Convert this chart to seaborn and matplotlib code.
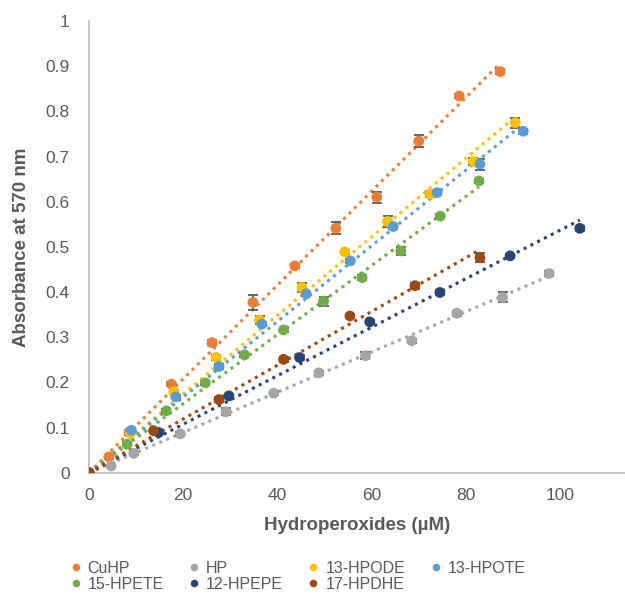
import numpy as np
import pandas as pd
import matplotlib
matplotlib.use('Agg')
import matplotlib.pyplot as plt
import seaborn as sns

# series names and Excel-like colours
series = ['CuHP', 'HP', '13-HPODE', '13-HPOTE', '15-HPETE', '12-HPEPE', '17-HPDHE']
colors = ['#ED7D31', '#A5A5A5', '#FFC000', '#5B9BD5', '#70AD47', '#264478', '#9E480E']

# values (x in uM, y = absorbance, err = error bar half width)
cuhp_x = [0, 4.2, 8.5, 17.5, 26.1, 34.8, 43.7, 52.4, 61.1, 70.0, 78.6, 87.3]
cuhp_y = [0, 0.035, 0.089, 0.196, 0.288, 0.377, 0.458, 0.541, 0.610, 0.734, 0.834, 0.888]
cuhp_err = [0, 0.004, 0.005, 0.005, 0.005, 0.017, 0.005, 0.013, 0.012, 0.014, 0.005, 0.006]

hp_x = [0, 4.7, 9.5, 19.4, 29.1, 39.2, 48.8, 58.7, 68.5, 78.1, 87.8, 97.7]
hp_y = [0, 0.015, 0.043, 0.086, 0.135, 0.176, 0.221, 0.259, 0.292, 0.353, 0.388, 0.441]
hp_err = [0, 0.003, 0.003, 0.004, 0.008, 0.004, 0.005, 0.008, 0.005, 0.005, 0.011, 0.005]

hpode_x = [0, 8.8, 18.0, 27.0, 36.2, 45.2, 54.3, 63.4, 72.4, 81.6, 90.5]
hpode_y = [0, 0.087, 0.179, 0.255, 0.338, 0.410, 0.489, 0.556, 0.617, 0.689, 0.775]
hpode_err = [0, 0.004, 0.005, 0.005, 0.009, 0.010, 0.005, 0.013, 0.006, 0.008, 0.011]

hpote_x = [0, 9.0, 18.4, 27.6, 36.7, 46.1, 55.5, 64.6, 73.9, 83.0, 92.2]
hpote_y = [0, 0.094, 0.168, 0.235, 0.329, 0.396, 0.469, 0.545, 0.620, 0.683, 0.756]
hpote_err = [0, 0.004, 0.005, 0.005, 0.005, 0.005, 0.005, 0.006, 0.006, 0.012, 0.006]

hpete_x = [0, 8.1, 16.4, 24.7, 33.0, 41.3, 49.8, 58.0, 66.2, 74.6, 82.8]
hpete_y = [0, 0.063, 0.137, 0.199, 0.261, 0.316, 0.380, 0.432, 0.491, 0.568, 0.646]
hpete_err = [0, 0.004, 0.004, 0.005, 0.005, 0.005, 0.010, 0.005, 0.008, 0.005, 0.005]

hpepe_x = [0, 14.8, 29.7, 44.7, 59.6, 74.5, 89.4, 104.2]
hpepe_y = [0, 0.089, 0.170, 0.255, 0.334, 0.399, 0.480, 0.541]
hpepe_err = [0, 0.004, 0.005, 0.005, 0.005, 0.006, 0.005, 0.005]

hpdhe_x = [0, 13.7, 27.6, 41.3, 55.4, 69.2, 83.0]
hpdhe_y = [0, 0.093, 0.162, 0.251, 0.347, 0.414, 0.476]
hpdhe_err = [0, 0.004, 0.005, 0.005, 0.005, 0.007, 0.010]

xs = [cuhp_x, hp_x, hpode_x, hpote_x, hpete_x, hpepe_x, hpdhe_x]
ys = [cuhp_y, hp_y, hpode_y, hpote_y, hpete_y, hpepe_y, hpdhe_y]
errs = [cuhp_err, hp_err, hpode_err, hpote_err, hpete_err, hpepe_err, hpdhe_err]

df = pd.concat([pd.DataFrame({'x': x, 'y': y, 'err': e, 'name': n})
                for x, y, e, n in zip(xs, ys, errs, series)], ignore_index=True)

sns.set_style('white')
plt.rcParams['font.family'] = ['Liberation Sans', 'DejaVu Sans']
txt = '#595959'

fig = plt.figure(figsize=(6.25, 5.97), dpi=100)
ax = fig.add_axes([89 / 625, (597 - 472.7) / 597, (625 - 89) / 625, 451.7 / 597])

# dotted linear trendlines through the origin (Excel style), from 0 to the last x
for n, c in zip(series, colors):
    d = df[df['name'] == n]
    slope = (d['x'] * d['y']).sum() / (d['x'] ** 2).sum()
    line = pd.DataFrame({'x': [0, d['x'].max()]})
    line['y'] = slope * line['x']
    sns.lineplot(data=line, x='x', y='y', ax=ax, color=c, linestyle=(0, (1, 1.5)),
                 linewidth=2.2, zorder=1)

# error bars
for n in series:
    d = df[df['name'] == n]
    ax.errorbar(d['x'], d['y'], yerr=d['err'], fmt='none', ecolor='#595959',
                elinewidth=1.3, capsize=3.5, capthick=1.3, zorder=2)

sns.scatterplot(data=df, x='x', y='y', hue='name', hue_order=series, palette=colors,
                s=60, linewidth=0, ax=ax, zorder=3, legend=True)

ax.set_xlim(0, 113.8)
ax.set_ylim(0, 1)
ax.set_xticks([0, 20, 40, 60, 80, 100])
ax.set_yticks(np.arange(0, 1.01, 0.1))
ax.set_yticklabels(['0', '0.1', '0.2', '0.3', '0.4', '0.5', '0.6', '0.7', '0.8', '0.9', '1'])

for s in ['top', 'right']:
    ax.spines[s].set_visible(False)
for s in ['left', 'bottom']:
    ax.spines[s].set_color('#BFBFBF')
    ax.spines[s].set_linewidth(1.3)
ax.tick_params(axis='both', which='both', direction='out', length=5, width=1.3,
               color='#BFBFBF', labelcolor=txt, labelsize=12.5)
ax.tick_params(axis='y', pad=9)
ax.tick_params(axis='x', pad=6)

ax.set_xlabel('Hydroperoxides (µM)', fontsize=13.5, fontweight='bold', color=txt, labelpad=10)
ax.set_ylabel('Absorbance at 570 nm', fontsize=13.5, fontweight='bold', color=txt, labelpad=11)

# legend: row-major order in 4 columns
handles, labels = ax.get_legend_handles_labels()
ax.legend_.remove()
lookup = dict(zip(labels, handles))
order = ['CuHP', '15-HPETE', 'HP', '12-HPEPE', '13-HPODE', '17-HPDHE', '13-HPOTE']
fig.legend([lookup[o] for o in order], order, loc='lower left',
           bbox_to_anchor=(54 / 625, -9 / 597), ncol=4, frameon=False,
           fontsize=11.5, labelcolor=txt, markerscale=0.7, handletextpad=0.3,
           columnspacing=1.45, labelspacing=0.05, handlelength=0.9)

fig.savefig('out.png', dpi=100)
